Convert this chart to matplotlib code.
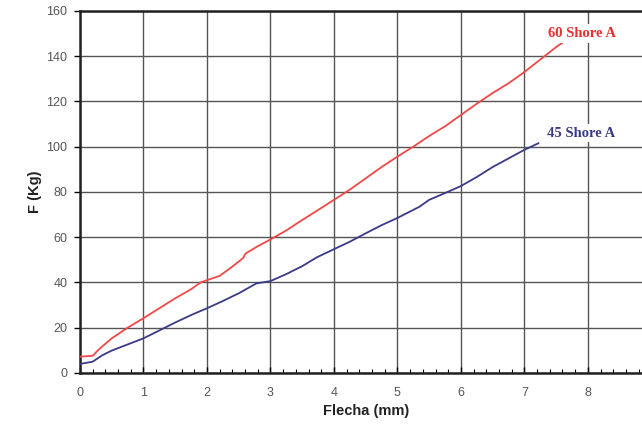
import numpy as np
import matplotlib
matplotlib.use('Agg')
import matplotlib.pyplot as plt
from matplotlib.ticker import MultipleLocator

################################################################################################################
'''
Data read off the reference curves (Flecha in mm, F in Kg)
'''
################################################################################################################
x_60 = [0, 0.2, 0.3, 0.5, 0.75, 1.0, 1.25, 1.5, 1.75, 1.9, 2.0, 2.2, 2.4, 2.57, 2.6, 2.62, 2.8, 3.0,
        3.25, 3.5, 3.75, 4.0, 4.25, 4.5, 4.75, 5.0, 5.25, 5.5, 5.75, 6.0, 6.25, 6.5, 6.75, 7.0, 7.25,
        7.5, 7.75]
f_60 = [7.2, 7.6, 10.5, 15.3, 20, 24.2, 28.6, 33, 37, 40, 41, 42.9, 47, 50.8, 52.5, 53, 56, 59,
        63, 67.6, 72, 76.5, 81, 86, 91, 95.6, 100, 104.7, 109, 114, 119, 123.7, 128, 133, 138.5,
        144, 149]

x_45 = [0, 0.2, 0.35, 0.5, 0.75, 1.0, 1.25, 1.5, 1.75, 2.0, 2.25, 2.5, 2.78, 3.0, 3.25, 3.5, 3.73,
        4.0, 4.25, 4.5, 4.75, 5.0, 5.35, 5.5, 5.75, 6.0, 6.25, 6.5, 6.75, 7.0, 7.22]
f_45 = [4, 5, 7.8, 9.9, 12.6, 15.3, 18.8, 22.3, 25.6, 28.6, 31.8, 35.2, 39.6, 40.6, 43.7, 47.2, 51.1,
        54.7, 58, 61.7, 65.3, 68.5, 73.5, 76.5, 79.5, 82.6, 86.6, 91, 94.8, 98.6, 101.5]

x_ticks = [0, 1, 2, 3, 4, 5, 6, 7, 8, 9]
x_ticklabels = ['0', '1', '2', '3', '4', '5', '6', '7', '8', '']   # 9 falls off the cropped image

label_60 = '60 Shore A'
label_45 = '45 Shore A'

################################################################################################################
'''
Figure
'''
################################################################################################################
fig = plt.figure(figsize=(6.42, 4.25), dpi=100)
ax = fig.add_axes([0.1246, 0.1224, 0.890, 0.852])

red = '#f04848'
blue = '#3a3a88'

ax.plot(x_60, f_60, color=red, lw=1.3, zorder=3)
ax.plot(x_45, f_45, color=blue, lw=1.3, zorder=3)

ax.set_xlim(0, 9)
ax.set_ylim(0, 160)
ax.set_xticks(x_ticks)
ax.set_xticklabels(x_ticklabels)
ax.xaxis.set_minor_locator(MultipleLocator(0.2))
ax.yaxis.set_major_locator(MultipleLocator(20))

ax.grid(True, which='major', color='#555555', lw=1.0)
ax.set_axisbelow(True)

for side in ['left', 'bottom', 'top']:
    ax.spines[side].set_linewidth(1.8)
    ax.spines[side].set_color('#222222')
ax.spines['right'].set_visible(False)

ax.tick_params(axis='y', which='major', direction='out', length=4, width=1,
               labelsize=9, labelcolor='#555555', pad=5)
ax.tick_params(axis='x', which='major', direction='in', length=4, width=1,
               labelsize=9, labelcolor='#555555', pad=10)
ax.tick_params(axis='x', which='minor', direction='in', length=3, width=0.8)
for lab in ax.get_xticklabels() + ax.get_yticklabels():
    lab.set_family('Liberation Sans')

ax.set_xlabel('Flecha (mm)', fontsize=10.5, fontweight='bold', family='Liberation Sans',
              color='#222222', labelpad=4)
ax.set_ylabel('F (Kg)', fontsize=10.5, fontweight='bold', family='Liberation Sans',
              color='#222222', labelpad=3)

box = dict(facecolor='white', edgecolor='none', pad=2)
ax.text(7.9, 150, label_60, color='#e83030', fontsize=10.5, fontweight='bold',
        family='Liberation Serif', ha='center', va='center', bbox=box, zorder=4)
ax.text(7.9, 106, label_45, color=blue, fontsize=10.5, fontweight='bold',
        family='Liberation Serif', ha='center', va='center', bbox=box, zorder=4)

fig.savefig('out.png', dpi=100)
